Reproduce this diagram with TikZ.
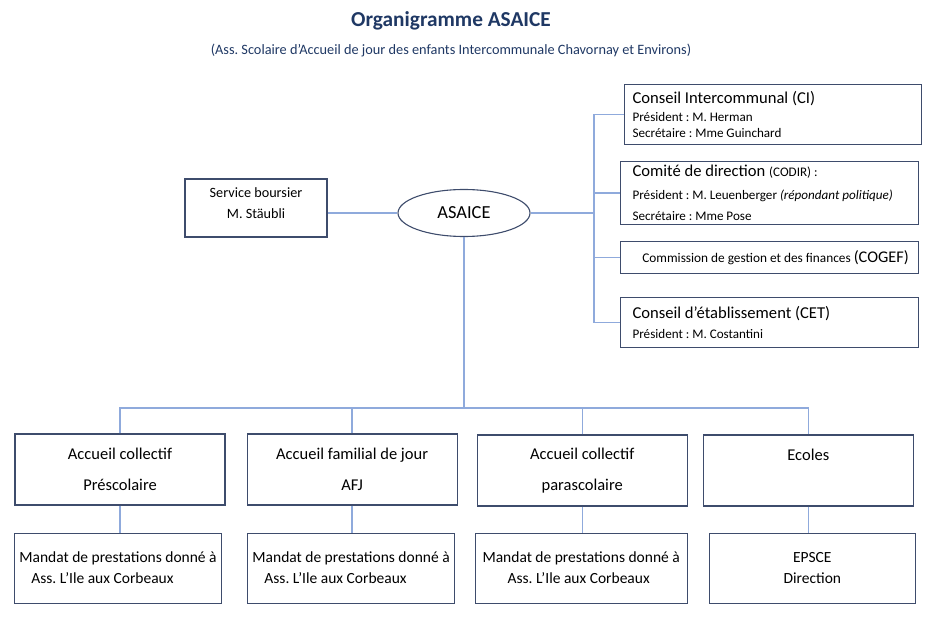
\documentclass[tikz,border=0pt]{standalone}
\usepackage{fontspec}
\setmainfont{Carlito}
\usepackage{xcolor}
\usetikzlibrary{shapes.geometric, positioning, calc}
\definecolor{boxline}{RGB}{62,76,108}
\definecolor{linkblue}{RGB}{143,170,220}
\definecolor{titleblue}{RGB}{31,56,100}
\newcommand{\fs}[1]{\fontsize{#1}{#1}\selectfont}
\newcommand{\tsp}{\spaceskip=0pt\xspaceskip=0pt\relax}
\frenchspacing
\tikzset{
    orgbox/.style={
        rectangle,
        draw=boxline,
        line width=1.1pt,
        inner sep=0pt,
        font=\fs{15.5}
    },
    infobox/.style={
        orgbox,
        anchor=north west,
        minimum width=298pt,
        align=left,
        text width=274pt
    },
    unitbox/.style={
        orgbox,
        minimum width=210pt,
        minimum height=71pt,
        align=center,
        font=\fs{16.5}
    },
    mandatebox/.style={
        orgbox,
        minimum width=207pt,
        minimum height=70pt,
        align=left
    },
    link/.style={
        draw=linkblue,
        line width=1.3pt
    }
}
\begin{document}
\begin{tikzpicture}[x=1pt, y=-1pt]
\useasboundingbox (0,0) rectangle (940,620);

% Title
\node[font=\fs{21.3}\bfseries, text=titleblue] (title) at (451,21) {Organigramme ASAICE};
\node[font=\fs{14.3}, text=titleblue] (subtitle) at (451,50) {(Ass. Scolaire d’Accueil de jour des enfants Intercommunale Chavornay et Environs)};

% Centre
\node[ellipse, draw=boxline, line width=1.1pt, minimum width=132pt, minimum height=47pt, font=\fs{18.4}] (asaice) at (464,213) {ASAICE};
\node[orgbox, minimum width=142pt, minimum height=58pt, align=center, font=\fs{14.2}] (boursier) at (256,208)
    {Service boursier\\[6.5pt]M. Stäubli\\[-4pt]\mbox{}};

% Right-hand bodies
\node[infobox, minimum width=297pt, minimum height=60pt, text width=281pt] (ci) at (624,84)
    {\tsp\fs{16.6}Conseil Intercommunal (CI)\\[5pt]
     \fs{13.1}Président : M. Herman\\[1pt]
     \fs{13.1}Secrétaire : Mme Guinchard};
\node[infobox, minimum height=63pt] (codir) at (620,161)
    {\tsp\fs{16.6}Comité de direction {\fs{13.1}(CODIR) :}\\[9pt]
     \fs{13.1}Président : M. Leuenberger \textit{(répondant politique)}\\[6pt]
     \fs{13.1}Secrétaire : Mme Pose};
\node[orgbox, anchor=north west, minimum width=298pt, minimum height=32pt] (cogef) at (620,241)
    {\hspace*{12pt}\fs{13.3}Commission de gestion et des finances {\fs{16.3}(COGEF)}};
\node[infobox, minimum height=50pt] (cet) at (620,297)
    {\tsp\fs{16.6}Conseil d’établissement (CET)\\[4pt]
     \fs{13.1}Président : M. Costantini};

\coordinate (spine) at (594,213);
\draw[link] (asaice.west) -- (asaice.west-|boursier.east);
\draw[link] (asaice.east) -- (asaice.east-|spine);
\draw[link] (ci.west) -- (ci.west-|spine) -- (cet.west-|spine) -- (cet.west);
\draw[link] (codir.west-|spine) -- (codir.west);
\draw[link] (cogef.west-|spine) -- (cogef.west);

% Units
\node[unitbox] (prescol) at (120,469.5) {Accueil collectif\\[14.5pt]Préscolaire};
\node[unitbox, right=21pt of prescol] (afj) {Accueil familial de jour\\[14.5pt]AFJ};
\node[unitbox, right=19pt of afj, yshift=-1pt] (parascol) {Accueil collectif\\[14.5pt]parascolaire};
\node[unitbox, right=15pt of parascol] (ecoles) {Ecoles\\[14.5pt]\phantom{Ecoles}};

% Mandates
\node[mandatebox, below=27pt of prescol.south, anchor=north, xshift=-2pt] (mandat1)
    {Mandat de prestations donné à\\[5.5pt]\hspace*{12pt}Ass. L’Ile aux Corbeaux};
\node[mandatebox, below=27pt of afj.south, anchor=north, xshift=-1pt] (mandat2)
    {Mandat de prestations donné à\\[5.5pt]\hspace*{12pt}Ass. L’Ile aux Corbeaux};
\node[mandatebox, minimum width=212pt, below=26pt of parascol.south, anchor=north, xshift=-1pt] (mandat3)
    {Mandat de prestations donné à\\[5.5pt]\hspace*{25pt}Ass. L’Ile aux Corbeaux};
\node[mandatebox, minimum width=206pt, below=26pt of ecoles.south, anchor=north, xshift=4pt, align=center] (epsce)
    {EPSCE\\[5.5pt]Direction};

% Tree
\coordinate (bus) at (0,408);
\draw[link] (asaice.south) -- (asaice.south|-bus);
\draw[link] (prescol.north) -- (prescol.north|-bus) -| (ecoles.north);
\draw[link] (afj.north) -- (afj.north|-bus);
\draw[link] (parascol.north) -- (parascol.north|-bus);
\draw[link] (prescol.south) -- (mandat1.north-|prescol.south);
\draw[link] (afj.south) -- (mandat2.north-|afj.south);
\draw[link] (parascol.south) -- (mandat3.north-|parascol.south);
\draw[link] (ecoles.south) -- (epsce.north-|ecoles.south);

\end{tikzpicture}
\end{document}
